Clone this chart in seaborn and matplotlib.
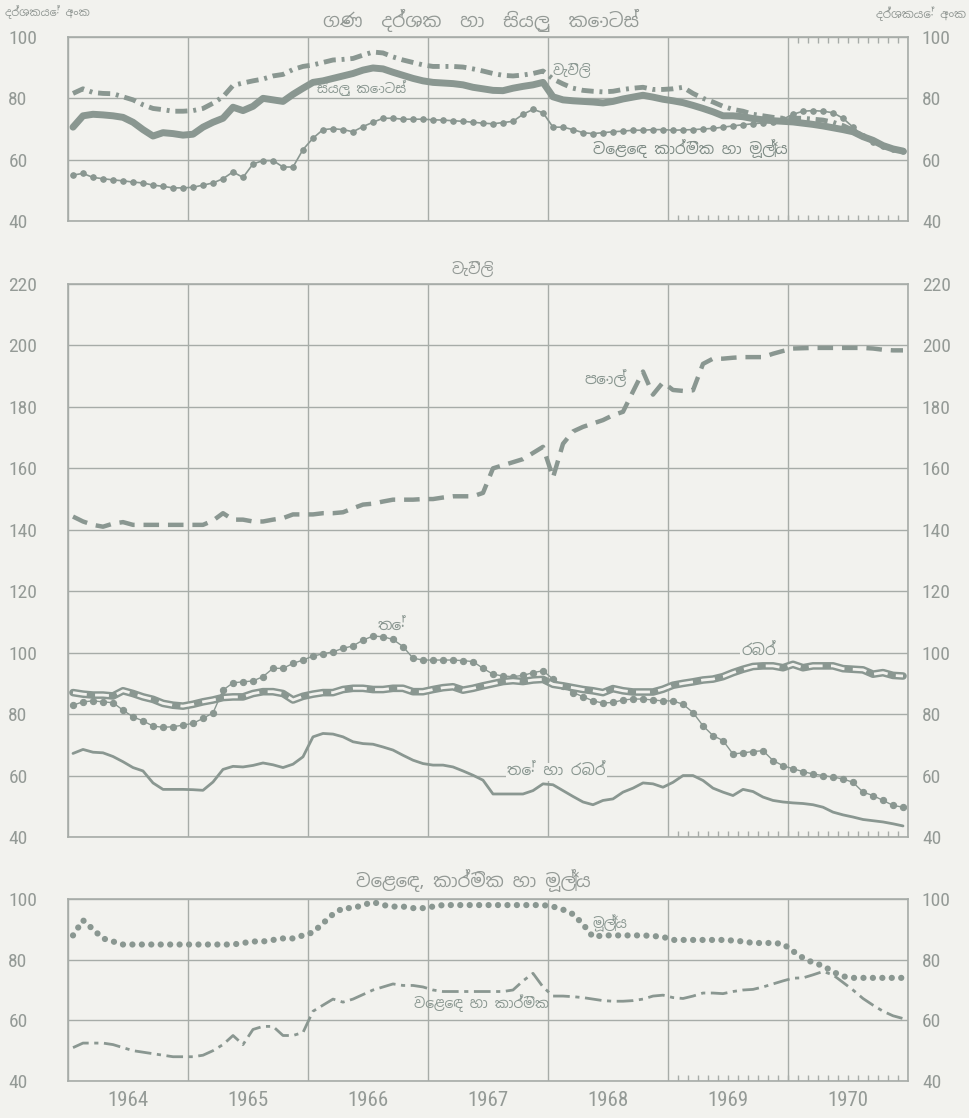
# -*- coding: utf-8 -*-
"""
    ශ්‍රී ලංකා ගණ දර්ශක 1964-1970 (scan recreation)
"""
import numpy as np
import pandas as pd
import seaborn as sns
import matplotlib.pyplot as plt
from matplotlib import font_manager

# ---- data: monthly index values, Jan 1964 .. Dec 1970 ----
years = [1964, 1965, 1966, 1967, 1968, 1969, 1970]

all_sectors = [70.6, 74.3, 74.8, 74.6, 74.3, 73.8, 72.2, 69.8, 67.7, 68.8, 68.5, 68.0,
               68.3, 70.6, 72.2, 73.5, 77.1, 76.0, 77.4, 80.0, 79.5, 79.0, 81.3, 83.3,
               85.2, 85.7, 86.5, 87.3, 88.1, 89.2, 89.9, 89.6, 88.5, 87.5, 86.5, 85.7,
               85.2, 85.0, 84.8, 84.4, 83.6, 83.1, 82.6, 82.5, 83.3, 83.9, 84.4, 85.2,
               80.5, 79.5, 79.2, 79.0, 78.8, 78.5, 79.0, 79.8, 80.4, 81.0, 80.4, 79.7,
               79.2, 78.6, 77.7, 76.7, 75.6, 74.3, 74.3, 74.0, 73.4, 73.0, 72.7, 72.5,
               72.3, 71.9, 71.5, 71.0, 70.4, 69.8, 69.1, 67.5, 66.3, 64.6, 63.5, 62.8]

plantations = [81.6, 83.1, 81.9, 81.6, 81.5, 80.5, 79.5, 77.9, 76.7, 76.3, 75.8, 75.8,
               76.0, 76.7, 78.4, 80.5, 84.2, 85.0, 85.7, 86.3, 87.3, 87.8, 89.4, 90.4,
               90.9, 91.7, 92.5, 92.7, 93.0, 94.1, 95.1, 94.8, 93.5, 92.5, 91.7, 90.9,
               90.4, 90.4, 90.4, 90.2, 89.6, 88.9, 88.1, 87.5, 87.3, 87.6, 88.1, 88.9,
               86.3, 84.7, 83.3, 82.6, 82.3, 82.1, 82.3, 82.9, 83.3, 83.6, 82.9, 82.9,
               83.1, 83.6, 81.6, 80.0, 78.8, 77.4, 76.4, 75.8, 74.8, 74.3, 73.8, 73.5,
               73.5, 73.5, 73.2, 72.9, 72.2, 71.1, 69.6, 67.7, 65.9, 64.6, 63.5, 62.7]

trade_ind_fin = [55.0, 55.5, 54.2, 53.8, 53.4, 53.1, 52.7, 52.4, 51.7, 51.3, 50.8, 50.8,
                 51.0, 51.7, 52.4, 53.8, 56.0, 54.2, 58.6, 59.7, 59.7, 57.6, 57.6, 63.3,
                 67.0, 69.8, 70.1, 69.8, 69.1, 70.8, 72.2, 73.5, 73.5, 73.2, 73.2, 73.2,
                 73.0, 72.9, 72.7, 72.5, 72.2, 71.9, 71.7, 72.1, 72.5, 74.8, 76.4, 75.3,
                 70.6, 70.6, 69.8, 68.8, 68.5, 68.8, 69.1, 69.3, 69.6, 69.6, 69.8, 69.8,
                 69.6, 69.7, 69.8, 70.0, 70.2, 70.6, 71.0, 71.4, 71.7, 72.0, 72.3, 73.2,
                 74.8, 75.8, 76.0, 75.8, 75.3, 73.5, 70.6, 67.7, 65.9, 64.6, 63.5, 62.7]

coconut = [144.3, 142.7, 141.6, 141.0, 142.0, 142.5, 141.6, 141.6, 141.6, 141.6, 141.6, 141.6,
           141.6, 141.6, 143.0, 145.4, 143.3, 143.3, 142.7, 142.7, 143.3, 143.8, 145.0, 145.0,
           145.0, 145.4, 145.4, 145.7, 147.0, 148.2, 148.5, 149.2, 149.8, 149.8, 149.8, 150.0,
           150.0, 150.5, 150.9, 150.9, 150.9, 152.0, 160.0, 161.0, 162.0, 163.0, 165.0, 167.0,
           157.0, 168.0, 172.0, 173.5, 174.6, 175.7, 177.3, 178.4, 185.0, 191.5, 184.0, 188.0,
           185.5, 185.2, 185.4, 194.0, 195.7, 195.7, 196.0, 196.2, 196.2, 196.2, 197.3, 198.2,
           199.0, 199.1, 199.2, 199.2, 199.2, 199.2, 199.2, 199.2, 199.0, 198.6, 198.4, 198.4]

tea = [82.9, 84.0, 84.3, 84.0, 83.7, 81.3, 79.1, 77.8, 76.1, 75.7, 75.9, 76.4,
       77.0, 78.6, 80.4, 87.8, 90.2, 90.5, 90.8, 92.2, 94.9, 94.9, 96.5, 97.6,
       98.9, 99.6, 100.3, 101.4, 102.2, 104.1, 105.4, 105.2, 104.3, 102.0, 98.2, 97.6,
       97.6, 97.6, 97.6, 97.4, 97.1, 94.9, 93.0, 92.4, 92.2, 92.6, 93.5, 94.1,
       91.4, 89.2, 87.0, 85.7, 84.3, 83.6, 83.8, 84.6, 84.9, 84.9, 84.6, 84.3,
       84.3, 83.2, 80.5, 76.2, 73.0, 71.4, 67.0, 67.4, 67.8, 68.1, 64.9, 63.2,
       62.2, 61.3, 60.5, 60.0, 59.5, 58.9, 57.8, 54.6, 53.5, 51.9, 50.3, 49.7]

rubber = [87.0, 86.5, 86.2, 86.2, 85.9, 87.6, 86.7, 85.6, 84.8, 83.5, 82.9, 82.6,
          83.2, 84.0, 84.6, 85.4, 85.6, 85.6, 86.7, 87.3, 87.3, 86.7, 84.6, 85.8,
          86.5, 87.0, 87.0, 88.0, 88.4, 88.4, 88.0, 88.0, 88.4, 88.4, 87.3, 87.3,
          88.0, 88.6, 88.9, 87.8, 88.4, 89.2, 89.9, 90.6, 90.9, 90.6, 91.1, 91.3,
          89.7, 89.2, 88.6, 88.0, 87.6, 87.0, 88.3, 87.6, 87.2, 87.2, 87.2, 88.1,
          89.4, 90.0, 90.5, 91.1, 91.4, 92.2, 93.5, 94.6, 95.5, 95.7, 95.7, 95.1,
          96.2, 95.1, 95.7, 95.7, 95.7, 94.8, 94.6, 94.4, 93.0, 93.5, 92.6, 92.4]

tea_rubber = [67.2, 68.5, 67.6, 67.4, 66.2, 64.5, 62.6, 61.5, 57.6, 55.5, 55.5, 55.5,
              55.4, 55.2, 57.9, 62.0, 63.0, 62.8, 63.3, 64.1, 63.5, 62.6, 63.7, 66.1,
              72.6, 73.7, 73.5, 72.6, 71.0, 70.4, 70.2, 69.3, 68.3, 66.6, 65.0, 63.9,
              63.4, 63.4, 62.8, 61.5, 60.1, 58.5, 54.0, 54.0, 54.0, 54.0, 55.1, 57.3,
              57.0, 55.1, 53.2, 51.4, 50.5, 51.9, 52.4, 54.6, 55.9, 57.6, 57.3, 56.2,
              57.8, 60.0, 60.0, 58.4, 55.9, 54.6, 53.5, 55.5, 54.8, 53.0, 51.9, 51.4,
              51.1, 50.9, 50.5, 49.7, 48.1, 47.2, 46.5, 45.7, 45.3, 44.9, 44.3, 43.6]

finance = [88, 93, 90, 87, 86, 85, 85, 85, 85, 85, 85, 85,
           85, 85, 85, 85, 85, 85.5, 86, 86, 86.5, 87, 87, 88,
           89, 92, 95, 97, 97, 98, 99, 98, 97.5, 97.5, 97, 97,
           97.5, 98, 98, 98, 98, 98, 98, 98, 98, 98, 98, 98,
           97.5, 96.5, 95, 91.7, 87.5, 88, 88, 88, 88, 88, 87.8, 87.5,
           86.5, 86.5, 86.5, 86.5, 86.5, 86.5, 86.3, 86, 85.5, 85.5, 85.5, 85.2,
           82.8, 80.6, 79, 78, 76, 74.5, 74, 74, 74, 74, 74, 74]

trade_industry = [51, 52.5, 52.5, 52.5, 52, 51, 50, 49.5, 49, 48.5, 48, 48,
                  48, 48.5, 50, 52, 55, 52, 57, 58, 58, 55, 55, 56,
                  63, 65, 67, 66, 67, 68.5, 70, 71, 72, 71.5, 71.5, 71,
                  70, 69.5, 69.5, 69.5, 69.5, 69.5, 69.5, 69.5, 70, 73, 75.5, 71,
                  68, 68, 67.8, 67.5, 67, 66.5, 66.3, 66.3, 66.5, 67, 68, 68.3,
                  67.5, 67.2, 68, 69, 69, 68.8, 69.5, 70, 70.2, 71, 72, 73,
                  73.9, 74, 75, 76.1, 75, 72.5, 70, 67.2, 65, 63, 61.5, 60.6]

# mid-month positions on a decimal-year axis
t = years[0] + (np.arange(len(coconut)) + 0.5) / 12

# ---- style ----
sns.set_theme(style='white')
names = {f.name for f in font_manager.fontManager.ttflist}
sinhala = sorted(n for n in names if 'Sinhala' in n or 'Iskoola' in n)
SI = sinhala[:1] + ['DejaVu Sans']
num_font = [n for n in ['Roboto Condensed', 'Liberation Sans Narrow', 'Roboto'] if n in names][:1] + ['DejaVu Sans']
plt.rcParams['font.family'] = num_font

PAPER = '#f2f2ee'
INK = '#8a9791'
GRID = '#a7aca8'
TXT = '#949a96'

fig = plt.figure(figsize=(9.7, 11.18), dpi=100, facecolor=PAPER)
W, H = 970, 1118


def make_axes(top, bottom, lo, hi):
    ax = fig.add_axes([68 / W, 1 - bottom / H, 840 / W, (bottom - top) / H])
    ax.set_facecolor(PAPER)
    ax.set_xlim(years[0], years[-1] + 1)
    ax.set_ylim(lo, hi)
    ax.set_xticks(range(years[0], years[-1] + 2))
    ax.set_yticks(range(lo, hi + 1, 20))
    ax.grid(True, color=GRID, lw=1)
    ax.tick_params(length=0, labelbottom=False, labelsize=14, labelcolor=TXT, pad=43)
    for lab in ax.get_yticklabels():
        lab.set_ha('left')
    for s in ax.spines.values():
        s.set_color(GRID)
        s.set_linewidth(1.2)
    axr = ax.twinx()
    axr.set_ylim(lo, hi)
    axr.set_yticks(range(lo, hi + 1, 20))
    axr.tick_params(length=0, labelsize=14, labelcolor=TXT, pad=10)
    axr.grid(False)
    for s in axr.spines.values():
        s.set_visible(False)
    # short month marks along the bottom for 1969-1970 (about 6 px tall)
    marks = years[-2] + np.arange(1, 24) / 12
    ax.vlines(marks, 0, 6 / (bottom - top), transform=ax.get_xaxis_transform(), color=GRID, lw=1)
    return ax


def draw(ax, values, **kw):
    df = pd.DataFrame({'t': t, 'v': values})
    sns.lineplot(data=df, x='t', y='v', ax=ax, color=kw.pop('color', INK), legend=False, **kw)
    ax.set_xlabel('')
    ax.set_ylabel('')


# ---- top panel: all sectors ----
ax1 = make_axes(37, 221, 40, 100)
ax1.vlines(years[-1] + np.arange(1, 12) / 12, 1 - 6 / 184, 1, transform=ax1.get_xaxis_transform(),
           color=GRID, lw=1)
draw(ax1, trade_ind_fin, lw=1.2, marker='o', ms=4, mec=INK)
draw(ax1, plantations, lw=3.5, linestyle=(0, (2.5, 1.2, 0.6, 1.2)))
draw(ax1, all_sectors, lw=5, solid_capstyle='round')
ax1.text(1968.2, 88.8, 'වැවිලි', family=SI, fontsize=10, color=INK, ha='center', va='center')
ax1.text(1966.45, 83.2, 'සියලු කොටස්', family=SI, fontsize=9.5, color=INK, ha='center', va='center')
ax1.text(1969.19, 63.6, 'වෙළෙඳ කාර්මික හා මූල්‍ය', family=SI, fontsize=11, color='#7f8c86',
         ha='center', va='center', fontweight='bold')

fig.text(5 / W, 1 - 12 / H, 'දර්ශකයේ අංක', family=SI, fontsize=8, color=TXT, va='center')
fig.text(966 / W, 1 - 14 / H, 'දර්ශකයේ අංක', family=SI, fontsize=8.5, color=TXT, va='center', ha='right')
fig.text(481 / W, 1 - 20 / H, 'ගණ  දර්ශක  හා  සියලු  කොටස්', family=SI, fontsize=13.5, color=TXT,
         ha='center', va='center')

# ---- middle panel: plantations ----
ax2 = make_axes(284, 837, 40, 220)
draw(ax2, coconut, lw=3.2, linestyle=(0, (3.5, 2)))
draw(ax2, tea, lw=1, marker='o', ms=4.5, mec=INK)
draw(ax2, rubber, lw=5.5)
draw(ax2, rubber, lw=2, color=PAPER, linestyle=(0, (5, 3)))
draw(ax2, tea_rubber, lw=2)
ax2.text(1968.48, 189, 'පොල්', family=SI, fontsize=11, color=INK, ha='center', va='center')
ax2.text(1966.70, 108.5, 'තේ', family=SI, fontsize=11, color=INK, ha='center', va='center')
ax2.text(1969.76, 100.4, 'රබර්', family=SI, fontsize=11, color=INK, ha='center', va='center',
         bbox=dict(fc=PAPER, ec='none', pad=1))
ax2.text(1968.07, 61.2, 'තේ හා රබර්', family=SI, fontsize=11, color=INK, ha='center', va='center',
         bbox=dict(fc=PAPER, ec='none', pad=1))
fig.text(473 / W, 1 - 270 / H, 'වැවිලි', family=SI, fontsize=11, color=TXT, ha='center', va='center')

# ---- bottom panel: trade, industry, finance ----
ax3 = make_axes(899, 1081, 40, 100)
draw(ax3, finance, lw=4.5, linestyle=(0, (0.01, 1.5)), dash_capstyle='round')
draw(ax3, trade_industry, lw=2, linestyle=(0, (6, 2, 1.5, 2)))
ax3.text(1968.52, 91.8, 'මූල්‍ය', family=SI, fontsize=10, color=INK, ha='center', va='center')
ax3.text(1967.45, 65.5, 'වෙළෙඳ හා කාර්මික', family=SI, fontsize=10, color=INK, ha='center', va='center')
fig.text(473 / W, 1 - 880 / H, 'වෙළෙඳ, කාර්මික හා මූල්‍ය', family=SI, fontsize=13, color=TXT,
         ha='center', va='center')
ax3.set_xticks([y + 0.5 for y in years], labels=[str(y) for y in years], minor=True)
ax3.tick_params(which='minor', length=0, labelbottom=True, labelsize=15, labelcolor=TXT, pad=7)

fig.savefig('out.png', dpi=100, facecolor=PAPER)
